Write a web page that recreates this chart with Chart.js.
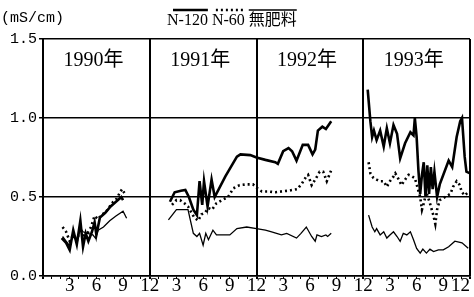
<!DOCTYPE html>
<html>
<head>
<meta charset="utf-8">
<script src="https://cdn.jsdelivr.net/npm/chart.js@4/dist/chart.umd.min.js"></script>
<style>
html,body{margin:0;padding:0;background:#fff;}
#wrap{width:474px;height:297px;position:relative;}
</style>
</head>
<body>
<div id="wrap"><canvas id="c" width="474" height="297"></canvas></div>
<script>
// months counted from the start of 1990 (0..48); null = break between years
const n120Months = [2.1,2.6,3.0,3.4,3.8,4.2,4.5,4.8,5.1,5.5,5.8,6.0,6.4,7.0,7.6,8.2,8.8,9.0,
  null,
  14.27,14.8,15.5,16.0,16.4,16.9,17.3,17.6,17.9,18.1,18.5,18.95,19.3,20.5,21.8,22.2,23.3,24.0,25.0,26.1,26.4,27.0,27.6,28.0,28.5,29.2,29.8,30.3,30.6,30.9,31.4,31.8,32.4,
  null,
  36.5,36.8,37.0,37.2,37.5,37.9,38.3,38.65,39.0,39.4,39.8,40.15,40.7,41.3,41.65,41.8,42.0,42.2,42.4,42.6,42.8,43.0,43.2,43.4,43.6,43.8,44.0,44.3,44.6,45.6,46.0,46.5,46.9,47.1,47.4,47.6,48.0];
const n120Values = [0.24,0.21,0.165,0.29,0.20,0.35,0.185,0.27,0.22,0.28,0.34,0.26,0.37,0.40,0.44,0.47,0.50,0.48,
  null,
  0.47,0.53,0.54,0.545,0.50,0.42,0.385,0.60,0.45,0.60,0.44,0.61,0.50,0.63,0.755,0.77,0.765,0.75,0.735,0.72,0.71,0.79,0.81,0.79,0.73,0.83,0.83,0.77,0.80,0.92,0.945,0.93,0.98,
  null,
  1.18,0.98,0.88,0.92,0.86,0.92,0.82,0.935,0.84,0.955,0.90,0.745,0.84,0.91,0.89,1.0,0.88,0.67,0.52,0.64,0.72,0.50,0.70,0.52,0.69,0.55,0.66,0.50,0.58,0.73,0.69,0.88,0.98,1.0,0.755,0.66,0.65];

const n60Months = [2.2,2.6,3.0,3.4,3.8,4.2,4.6,5.0,5.4,5.8,6.2,6.6,7.0,7.5,7.9,8.3,8.65,8.9,9.2,
  null,
  14.5,15.0,15.4,15.9,16.3,16.7,17.0,17.45,17.8,18.2,18.6,19.0,19.5,20.1,20.8,21.4,22.1,22.9,23.6,24.2,24.6,25.3,26.1,26.8,27.6,28.1,28.6,29.1,29.6,29.8,30.2,30.6,31.1,31.5,31.9,32.4,
  null,
  36.6,36.8,37.15,37.5,37.9,38.3,38.65,39.0,39.4,39.6,40.0,40.3,40.7,41.1,41.5,41.8,42.0,42.4,42.6,42.8,43.1,43.5,43.7,43.9,44.1,44.3,44.6,45.2,45.8,46.1,46.5,46.8,47.1,47.4,47.8];
const n60Values = [0.31,0.28,0.22,0.26,0.22,0.30,0.24,0.27,0.31,0.38,0.36,0.39,0.40,0.44,0.47,0.49,0.53,0.55,0.52,
  null,
  0.45,0.48,0.48,0.46,0.44,0.40,0.37,0.35,0.39,0.40,0.43,0.42,0.46,0.48,0.50,0.555,0.575,0.58,0.58,0.55,0.535,0.535,0.53,0.535,0.54,0.545,0.55,0.585,0.63,0.64,0.575,0.61,0.66,0.66,0.60,0.67,
  null,
  0.72,0.65,0.62,0.61,0.60,0.60,0.565,0.60,0.63,0.65,0.61,0.575,0.61,0.64,0.63,0.62,0.58,0.50,0.42,0.46,0.53,0.46,0.42,0.38,0.33,0.42,0.48,0.50,0.52,0.565,0.60,0.58,0.53,0.51,0.53];

const noFertMonths = [2.2,2.6,3.0,3.4,3.8,4.2,4.5,5.0,5.6,5.9,6.2,6.8,7.5,8.2,9.0,9.4,
  null,
  14.1,15.0,16.3,16.9,17.3,17.6,18.0,18.3,18.6,19.1,19.5,21.0,21.8,22.9,24.0,25.0,25.7,26.8,27.4,28.5,29.0,29.6,30.2,30.6,30.8,31.3,31.8,32.0,32.4,
  null,
  36.6,37.0,37.3,37.5,37.9,38.3,38.65,39.0,39.4,39.8,40.15,40.5,40.9,41.3,41.65,42.0,42.4,42.7,43.1,43.5,43.9,44.45,45.0,45.6,46.3,47.1,47.8];
const noFertValues = [0.25,0.22,0.19,0.27,0.21,0.30,0.28,0.27,0.26,0.24,0.29,0.31,0.35,0.38,0.41,0.365,
  null,
  0.355,0.42,0.42,0.27,0.25,0.27,0.195,0.27,0.23,0.29,0.26,0.26,0.30,0.31,0.30,0.29,0.28,0.26,0.27,0.24,0.27,0.31,0.25,0.22,0.26,0.25,0.26,0.25,0.27,
  null,
  0.385,0.31,0.28,0.30,0.26,0.28,0.24,0.26,0.28,0.25,0.22,0.27,0.26,0.28,0.23,0.175,0.145,0.17,0.145,0.17,0.155,0.165,0.165,0.185,0.22,0.21,0.175];

const monthTickLabels = ['3','6','9','12'];
const yearLabels = ['1990年','1991年','1992年','1993年'];
const legendLabels = ['N-120','N-60','無肥料'];
const unitLabel = '(mS/cm)';

function toPoints(ms, vs){
  return ms.map((m,i)=>({x: m===null ? ms[i-1]+0.01 : m, y: vs[i]}));
}

const SERIF = '"Liberation Serif","DejaVu Serif","Noto Sans CJK JP",serif';
const MONO = '"Liberation Mono","DejaVu Sans Mono",monospace';

const styles = [
  {borderWidth:2.6, borderDash:[]},
  {borderWidth:2.6, borderDash:[2,3]},
  {borderWidth:1.3, borderDash:[]}
];

const overlay = {
  id:'overlay',
  afterDraw(chart){
    const ctx = chart.ctx, xs = chart.scales.x, ys = chart.scales.y;
    ctx.save();
    ctx.fillStyle = '#000';
    // unit
    ctx.font = '15px ' + MONO;
    ctx.textBaseline = 'middle';
    ctx.textAlign = 'left';
    ctx.fillText(unitLabel, 1, 18);
    // year labels
    ctx.font = '20px ' + SERIF;
    ctx.textAlign = 'center';
    yearLabels.forEach((t,i)=>{
      const cx = (xs.getPixelForValue(i*12) + xs.getPixelForValue(i*12+12))/2 - 3;
      ctx.fillText(t, cx, ys.getPixelForValue(1.36));
    });
    // legend
    ctx.font = '16px ' + SERIF;
    ctx.textAlign = 'left';
    let x = 167;
    const segs = [];
    legendLabels.forEach((t,i)=>{
      const w = ctx.measureText(t).width;
      ctx.fillText(t, x, 21);
      segs.push([x+ (i===0?6:(i===1?4:0)), x+w]);
      x += w + 4;
    });
    ctx.strokeStyle = '#000';
    segs.forEach((s,i)=>{
      ctx.beginPath();
      ctx.lineWidth = styles[i].borderWidth;
      ctx.setLineDash(styles[i].borderDash);
      ctx.moveTo(s[0], 10);
      ctx.lineTo(s[1], 10);
      ctx.stroke();
    });
    ctx.restore();
  }
};

new Chart(document.getElementById('c'), {
  type:'line',
  data:{
    datasets:[
      {label:legendLabels[0], data:toPoints(n120Months,n120Values), borderColor:'#000', borderWidth:styles[0].borderWidth, pointRadius:0, tension:0, spanGaps:false},
      {label:legendLabels[1], data:toPoints(n60Months,n60Values), borderColor:'#000', borderWidth:styles[1].borderWidth, borderDash:styles[1].borderDash, pointRadius:0, tension:0, spanGaps:false},
      {label:legendLabels[2], data:toPoints(noFertMonths,noFertValues), borderColor:'#000', borderWidth:styles[2].borderWidth, pointRadius:0, tension:0, spanGaps:false}
    ]
  },
  options:{
    responsive:false,
    animation:false,
    events:[],
    layout:{padding:{top:39,right:4,left:0,bottom:0}},
    plugins:{legend:{display:false}, tooltip:{enabled:false}, title:{display:false}},
    scales:{
      x:{
        type:'linear', min:0, max:48,
        afterFit(s){ s.height = 21; s.paddingLeft = 0; s.paddingRight = 0; },
        ticks:{
          stepSize:1, autoSkip:false, maxRotation:0, minRotation:0, padding:-4, align:'inner',
          color:'#000', font:{family:SERIF, size:19},
          callback:(v)=> (v>0 && v%3===0) ? monthTickLabels[(v/3-1)%4] : ''
        },
        grid:{
          color:(c)=> (c.tick && c.tick.value%12===0) ? '#000' : 'rgba(0,0,0,0)',
          lineWidth:(c)=> (c.tick && c.tick.value%12===0) ? 2 : 1,
          tickColor:'#000', tickLength:3, drawTicks:true
        },
        border:{display:true, color:'#000', width:1.5}
      },
      y:{
        min:0, max:1.5,
        afterFit(s){ s.width = 43; s.paddingTop = 0; s.paddingBottom = 0; },
        ticks:{stepSize:0.5, padding:2, color:'#000', font:{family:MONO, size:15},
          callback:(v)=> Number(v).toFixed(1)},
        grid:{color:'#000', lineWidth:1.5, tickLength:4, tickColor:'#000'},
        border:{display:true, color:'#000', width:2}
      }
    }
  },
  plugins:[overlay]
});
</script>
</body>
</html>
